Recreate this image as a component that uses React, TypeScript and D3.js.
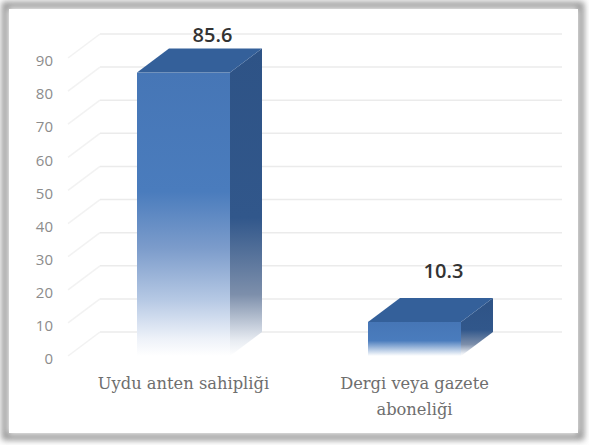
import React from "react";
import * as d3 from "d3";

const categories: string[][] = [["Uydu anten sahipliği"], ["Dergi veya gazete", "aboneliği"]];
const values: number[] = [85.6, 10.3];
const ticks: number[] = [0, 10, 20, 30, 40, 50, 60, 70, 80, 90];

const W = 589;
const H = 445;
const DX = 32;
const DY = -24;
const BAR_W = 93;

export default function App() {
  const y = d3.scaleLinear().domain([0, 90]).range([356, 58]);
  const keys = categories.map((c) => c.join(" "));
  const x = d3.scalePoint<string>().domain(keys).range([68, 530]).padding(0.5);
  const frontLeft = 68;
  const frontRight = 530;

  return (
    <svg width={W} height={H} style={{ position: "absolute", left: 0, top: 0 }}>
      <defs>
        <filter id="blur" x="-10%" y="-10%" width="120%" height="120%">
          <feGaussianBlur stdDeviation="3" />
        </filter>
        <linearGradient id="front" x1="0" y1="0" x2="0" y2="1">
          <stop offset="0" stopColor="#4676b6" />
          <stop offset="0.42" stopColor="#4a7cbd" />
          <stop offset="0.62" stopColor="#7c9ccb" />
          <stop offset="0.8" stopColor="#b5c8e4" />
          <stop offset="0.94" stopColor="#eef2f9" />
          <stop offset="1" stopColor="#ffffff" />
        </linearGradient>
        <linearGradient id="side" x1="0" y1="0" x2="0" y2="1">
          <stop offset="0" stopColor="#2e5386" />
          <stop offset="0.55" stopColor="#31578b" />
          <stop offset="0.8" stopColor="#7d8fab" />
          <stop offset="0.95" stopColor="#e8ecf2" />
          <stop offset="1" stopColor="#ffffff" />
        </linearGradient>
        <linearGradient id="front2" x1="0" y1="0" x2="0" y2="1">
          <stop offset="0" stopColor="#4676b6" />
          <stop offset="0.55" stopColor="#4a7cbd" />
          <stop offset="1" stopColor="#ffffff" />
        </linearGradient>
      </defs>
      <rect x={0} y={0} width={W} height={H} fill="#ffffff" />
      <rect x={5} y={5} width={576} height={432} fill="none" stroke="#8f8f8f" strokeWidth={6} filter="url(#blur)" />
      <rect x={9} y={9} width={569} height={424} fill="#ffffff" />

      {/* side wall lines */}
      {ticks.map((t) => (
        <line key={"s" + t} x1={frontLeft} y1={y(t)} x2={frontLeft + DX} y2={y(t) + DY} stroke="#f2f2f2" strokeWidth={1.5} />
      ))}
      {/* back wall gridlines */}
      {ticks.map((t) => (
        <line key={"g" + t} x1={frontLeft + DX} y1={y(t) + DY} x2={frontRight + DX} y2={y(t) + DY} stroke="#ebebeb" strokeWidth={1.5} />
      ))}

      {/* tick labels */}
      {ticks.map((t) => (
        <text key={"t" + t} x={53} y={y(t) + 3} dy="0.35em" textAnchor="end" fontFamily="Open Sans, sans-serif" fontSize={15} fill="#8c8c8c">
          {t}
        </text>
      ))}

      {/* bars */}
      {values.map((v, i) => {
        const cx = x(keys[i]) as number;
        const l = cx - BAR_W / 2;
        const r = cx + BAR_W / 2;
        const top = y(v);
        const bot = y(0);
        const small = v < 30;
        return (
          <g key={"b" + i}>
            <path d={`M${r},${top} L${r + DX},${top + DY} L${r + DX},${bot + DY} L${r},${bot} Z`} fill="url(#side)" />
            <rect x={l} y={top} width={BAR_W} height={bot - top} fill={small ? "url(#front2)" : "url(#front)"} />
            <path d={`M${l},${top} L${l + DX},${top + DY} L${r + DX},${top + DY} L${r},${top} Z`} fill="#34609a" />
            <text
              x={cx + 29}
              y={Math.max(top - 44, 42)}
              textAnchor="middle"
              fontFamily="Open Sans, sans-serif"
              fontWeight={600}
              fontSize={20}
              fill="#333333"
            >
              {v.toFixed(1)}
            </text>
          </g>
        );
      })}

      {/* category labels */}
      {categories.map((lines, i) => (
        <text key={"c" + i} x={x(keys[i]) as number} y={389} textAnchor="middle" fontFamily="DejaVu Serif, serif" fontSize={16.3} fill="#6e6e6e">
          {lines.map((ln, j) => (
            <tspan key={j} x={x(keys[i]) as number} dy={j === 0 ? 0 : 26}>
              {ln}
            </tspan>
          ))}
        </text>
      ))}
    </svg>
  );
}
